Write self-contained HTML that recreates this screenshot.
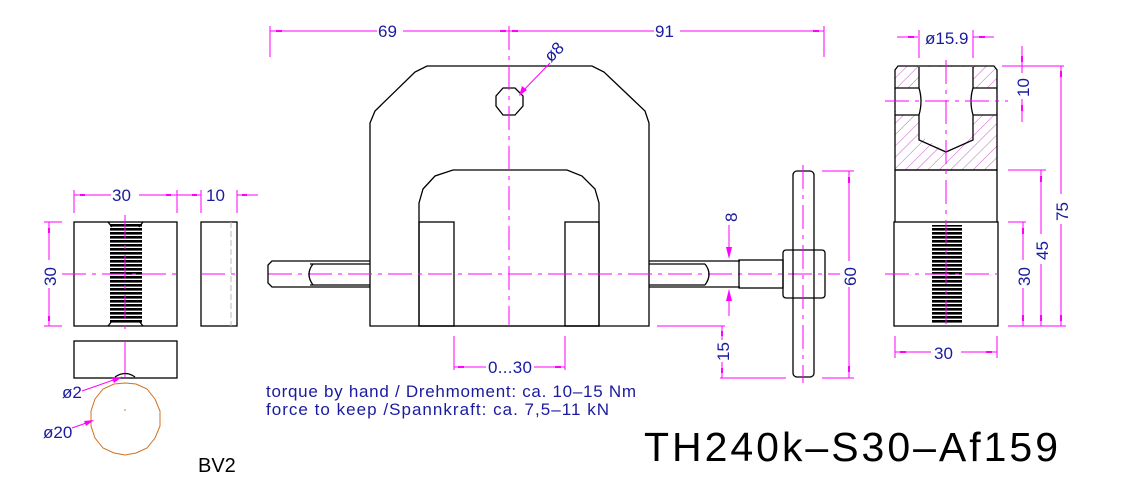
<!DOCTYPE html>
<html><head><meta charset="utf-8"><style>
html,body{margin:0;padding:0;background:#fff;width:1125px;height:486px;overflow:hidden}
svg{display:block}
.k{stroke:#000;stroke-width:1.3;fill:none}
.m{stroke:#f0f;stroke-width:1;fill:none}
.c{stroke:#f0f;stroke-width:1;fill:none;stroke-dasharray:24 6 4 6}
.t{fill:#1a1aa0;font-family:"Liberation Sans",sans-serif;font-size:17px}
.a{fill:#f0f}
</style></head><body>
<svg width="1125" height="486" viewBox="0 0 1125 486" xmlns="http://www.w3.org/2000/svg">
<defs>
<pattern id="h" width="8" height="8" patternUnits="userSpaceOnUse" patternTransform="rotate(45)">
<line x1="0" y1="0" x2="0" y2="8" stroke="#c030c0" stroke-width="0.8"/></pattern>
<pattern id="th" width="4" height="4" patternUnits="userSpaceOnUse">
<rect width="4" height="2.6" fill="#000"/></pattern>
</defs>

<!-- ===== Left block views ===== -->
<rect x="74" y="222" width="103" height="104" class="k"/>
<rect x="110" y="224" width="32" height="100" fill="url(#th)"/>
<line x1="108" y1="222" x2="112" y2="227" class="k"/><line x1="143" y1="222" x2="139" y2="227" class="k"/>
<line x1="108" y1="326" x2="112" y2="321" class="k"/><line x1="143" y1="326" x2="139" y2="321" class="k"/>
<line x1="62" y1="274" x2="177" y2="274" class="c"/>
<line x1="125" y1="215" x2="125" y2="330" class="c"/>
<rect x="201" y="222" width="36" height="104" class="k"/>
<line x1="231" y1="222" x2="231" y2="326" stroke="#bbb" stroke-dasharray="6 3"/>
<line x1="201" y1="274" x2="237" y2="274" class="c"/>
<rect x="74" y="341" width="103" height="37" class="k"/>
<line x1="125" y1="341" x2="125" y2="378" class="m"/>
<polygon points="125,383 136,384 147,389 155,399 160,411 160,426 155,438 147,448 136,453 125,455 114,453 103,448 95,438 91,426 91,411 95,399 103,389 114,384" fill="none" stroke="#d07020" stroke-width="1"/>
<path d="M115 377 Q125 370 135 377" class="k"/>
<circle cx="125" cy="410" r="0.8" fill="#d07020"/>
<!-- dims -->
<line x1="74" y1="195" x2="177" y2="195" class="m"/>
<line x1="74" y1="190" x2="74" y2="213" class="m"/><line x1="177" y1="190" x2="177" y2="213" class="m"/>
<rect x="80" y="194" width="5" height="2" class="a"/><rect x="166" y="194" width="5" height="2" class="a"/>
<rect x="111" y="186" width="28" height="16" fill="#fff"/>
<text x="112" y="201" class="t">30</text>
<line x1="177" y1="195" x2="201" y2="195" class="m"/><line x1="237" y1="195" x2="258" y2="195" class="m"/>
<line x1="201" y1="190" x2="201" y2="213" class="m"/><line x1="237" y1="190" x2="237" y2="213" class="m"/>
<rect x="192" y="194" width="5" height="2" class="a"/><rect x="242" y="194" width="5" height="2" class="a"/>
<text x="206" y="201" class="t">10</text>
<line x1="49" y1="222" x2="49" y2="326" class="m"/>
<line x1="44" y1="222" x2="62" y2="222" class="m"/><line x1="44" y1="326" x2="62" y2="326" class="m"/>
<rect x="48" y="228" width="2" height="5" class="a"/><rect x="48" y="316" width="2" height="5" class="a"/>
<rect x="41" y="260" width="16" height="28" fill="#fff"/>
<text transform="translate(56,286) rotate(-90)" class="t">30</text>
<line x1="82" y1="391" x2="122" y2="377" class="m"/><polygon points="122,377 112,378 114,383" class="a"/>
<text x="62" y="398" class="t">ø2</text>
<line x1="72" y1="428" x2="92" y2="421" class="m"/><polygon points="94,420 84,421 86,426" class="a"/>
<text x="43" y="438" class="t">ø20</text>
<text x="198" y="472" fill="#000" font-family="Liberation Sans,sans-serif" font-size="20">BV2</text>

<!-- ===== Main frame ===== -->
<path d="M370 326 L370 123 L375 111 L415 72 L427 66 L592 66 L604 72 L645 111 L649 123 L649 326 Z" class="k"/>
<path d="M419 326 L419 203 L423 189 L435 176 L453 170 L567 170 L582 176 L595 189 L599 203 L599 326 Z" class="k"/>
<rect x="419" y="222" width="35" height="104" class="k"/>
<rect x="565" y="222" width="34" height="104" class="k"/>
<polygon points="503,88 515,88 523,96 523,106 515,115 503,115 496,106 496,96" class="k"/>
<line x1="509" y1="26" x2="509" y2="326" class="c"/>
<line x1="268" y1="274" x2="840" y2="274" class="c"/>
<!-- left screw -->
<path d="M370 261 L272 261 L268 265 L268 283 L272 287 L370 287" class="k"/>
<line x1="310" y1="264" x2="370" y2="264" class="k"/><line x1="310" y1="285" x2="370" y2="285" class="k"/>
<path d="M313 264 Q305 274 313 285" class="k"/>
<!-- right screw -->
<line x1="649" y1="261" x2="740" y2="261" class="k"/><line x1="649" y1="287" x2="740" y2="287" class="k"/>
<line x1="649" y1="264" x2="705" y2="264" class="k"/><line x1="649" y1="285" x2="705" y2="285" class="k"/>
<path d="M705 264 Q713 274 705 285" class="k"/>
<rect x="739" y="260" width="44" height="28" class="k"/>
<rect x="783" y="250" width="42" height="48" rx="3" class="k"/>
<rect x="793" y="171" width="21" height="206" rx="4" class="k"/>
<line x1="803" y1="165" x2="803" y2="383" class="c"/>
<!-- dims main -->
<line x1="270" y1="31" x2="824" y2="31" class="m"/>
<line x1="270" y1="26" x2="270" y2="57" class="m"/><line x1="824" y1="26" x2="824" y2="57" class="m"/>
<rect x="276" y="30" width="6" height="2" class="a"/><rect x="500" y="30" width="6" height="2" class="a"/><rect x="512" y="30" width="6" height="2" class="a"/><rect x="813" y="30" width="6" height="2" class="a"/>
<rect x="377" y="23" width="26" height="16" fill="#fff"/><text x="378" y="37" class="t">69</text>
<rect x="654" y="23" width="26" height="16" fill="#fff"/><text x="655" y="37" class="t">91</text>
<line x1="520" y1="94" x2="550" y2="63" class="m"/><polygon points="519,96 522,86 527,90" class="a"/>
<text transform="translate(551,63) rotate(-45)" class="t">ø8</text>
<line x1="454" y1="336" x2="454" y2="370" class="m"/><line x1="565" y1="336" x2="565" y2="370" class="m"/>
<line x1="454" y1="367" x2="565" y2="367" class="m"/>
<rect x="458" y="366" width="6" height="2" class="a"/><rect x="555" y="366" width="6" height="2" class="a"/>
<rect x="486" y="358" width="48" height="16" fill="#fff"/><text x="488" y="373" class="t" textLength="44">0...30</text>
<line x1="729" y1="225" x2="729" y2="256" class="m"/><polygon points="726,247 732,247 729,259" class="a"/>
<line x1="729" y1="290" x2="729" y2="316" class="m"/><polygon points="726,301 732,301 729,289" class="a"/>
<text transform="translate(737,222) rotate(-90)" class="t">8</text>
<line x1="657" y1="326" x2="725" y2="326" class="m"/><line x1="720" y1="378" x2="786" y2="378" class="m"/>
<line x1="722" y1="326" x2="722" y2="378" class="m"/>
<rect x="721" y="331" width="2" height="5" class="a"/><rect x="721" y="368" width="2" height="5" class="a"/>
<rect x="714" y="340" width="16" height="22" fill="#fff"/><text transform="translate(729,361) rotate(-90)" class="t">15</text>
<line x1="822" y1="171" x2="854" y2="171" class="m"/><line x1="822" y1="378" x2="854" y2="378" class="m"/>
<line x1="849" y1="171" x2="849" y2="378" class="m"/>
<rect x="848" y="177" width="2" height="6" class="a"/><rect x="848" y="366" width="2" height="6" class="a"/>
<rect x="841" y="261" width="16" height="26" fill="#fff"/><text transform="translate(856,286) rotate(-90)" class="t">60</text>
<text x="266" y="397" class="t" font-size="14" textLength="370" lengthAdjust="spacing">torque by hand / Drehmoment: ca. 10–15 Nm</text>
<text x="266" y="415" class="t" font-size="14" textLength="343" lengthAdjust="spacing">force to keep /Spannkraft: ca. 7,5–11 kN</text>

<!-- ===== Right view ===== -->
<path d="M895 170 L895 70 L898 66 L994 66 L997 70 L997 170 Z" fill="url(#h)"/>
<path d="M919 67 L973 67 L973 135 L946 152 L919 135 Z" fill="#fff"/>
<rect x="896" y="88" width="100" height="27" fill="#fff"/>
<path d="M895 170 L895 70 L898 66 L994 66 L997 70 L997 170 Z" class="k"/>
<path d="M919 67 L919 88 M973 67 L973 88 M919 115 L919 140 L946 152 L973 140 L973 115" class="k"/>
<line x1="895" y1="88" x2="919" y2="88" class="k"/><line x1="973" y1="88" x2="997" y2="88" class="k"/>
<line x1="895" y1="115" x2="919" y2="115" class="k"/><line x1="973" y1="115" x2="997" y2="115" class="k"/>
<path d="M919 88 Q923 101 919 115 M973 88 Q969 101 973 115" class="k"/>
<line x1="895" y1="170" x2="997" y2="170" class="k"/>
<line x1="895" y1="170" x2="895" y2="222" class="k"/><line x1="997" y1="170" x2="997" y2="222" class="k"/>
<rect x="894" y="222" width="104" height="104" class="k"/>
<rect x="932" y="225" width="30" height="98" fill="url(#th)"/>
<line x1="946" y1="60" x2="946" y2="330" class="c"/>
<line x1="885" y1="101" x2="1008" y2="101" class="c"/>
<line x1="885" y1="274" x2="998" y2="274" class="c"/>
<!-- dims -->
<line x1="897" y1="37" x2="918" y2="37" class="m"/><line x1="973" y1="37" x2="994" y2="37" class="m"/>
<line x1="919" y1="30" x2="919" y2="58" class="m"/><line x1="973" y1="30" x2="973" y2="58" class="m"/>
<rect x="908" y="36" width="6" height="2" class="a"/><rect x="979" y="36" width="6" height="2" class="a"/>
<text x="925" y="44" class="t">ø15.9</text>
<line x1="1002" y1="66" x2="1064" y2="66" class="m"/>
<line x1="1022" y1="46" x2="1022" y2="122" class="m"/>
<rect x="1021" y="56" width="2" height="6" class="a"/><rect x="1021" y="105" width="2" height="6" class="a"/>
<rect x="1014" y="73" width="16" height="26" fill="#fff"/><text transform="translate(1029,97) rotate(-90)" class="t">10</text>
<line x1="1008" y1="170" x2="1046" y2="170" class="m"/><line x1="1008" y1="222" x2="1026" y2="222" class="m"/>
<line x1="1008" y1="326" x2="1066" y2="326" class="m"/>
<line x1="1061" y1="66" x2="1061" y2="326" class="m"/>
<rect x="1060" y="71" width="2" height="6" class="a"/><rect x="1060" y="315" width="2" height="6" class="a"/>
<rect x="1053" y="194" width="16" height="30" fill="#fff"/><text transform="translate(1068,221) rotate(-90)" class="t">75</text>
<line x1="1041" y1="170" x2="1041" y2="326" class="m"/>
<rect x="1040" y="176" width="2" height="6" class="a"/><rect x="1040" y="315" width="2" height="6" class="a"/>
<rect x="1033" y="234" width="16" height="30" fill="#fff"/><text transform="translate(1048,260) rotate(-90)" class="t">45</text>
<line x1="1023" y1="222" x2="1023" y2="326" class="m"/>
<rect x="1022" y="228" width="2" height="6" class="a"/><rect x="1022" y="315" width="2" height="6" class="a"/>
<rect x="1015" y="260" width="16" height="28" fill="#fff"/><text transform="translate(1030,286) rotate(-90)" class="t">30</text>
<line x1="895" y1="336" x2="895" y2="358" class="m"/><line x1="997" y1="336" x2="997" y2="358" class="m"/>
<line x1="895" y1="352" x2="997" y2="352" class="m"/>
<rect x="900" y="351" width="6" height="2" class="a"/><rect x="986" y="351" width="6" height="2" class="a"/>
<rect x="931" y="343" width="30" height="18" fill="#fff"/><text x="934" y="359" class="t">30</text>

<text x="644" y="461" fill="#000" font-family="Liberation Sans,sans-serif" font-size="41" textLength="414" lengthAdjust="spacing">TH240k–S30–Af159</text>
</svg>
</body></html>
